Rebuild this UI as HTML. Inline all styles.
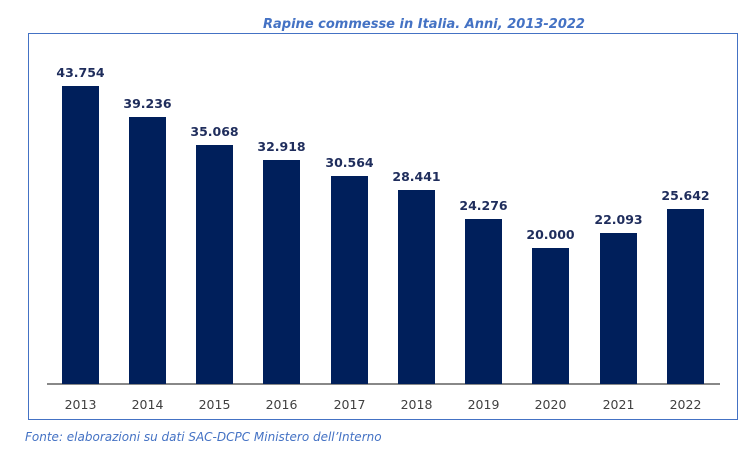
<!DOCTYPE html>
<html><head><style>body{margin:0;background:#fff;}svg{display:block}</style></head>
<body>
<svg width="754" height="459" xmlns="http://www.w3.org/2000/svg" font-family="Verdana, 'DejaVu Sans', sans-serif">
<text x="424" y="28" text-anchor="middle" font-size="13" font-style="italic" font-weight="bold" fill="#4472c4">Rapine commesse in Italia. Anni, 2013-2022</text>
<rect x="28.5" y="33.5" width="709" height="386" fill="none" stroke="#4472c4" stroke-width="1"/>
<line x1="47" y1="384" x2="720" y2="384" stroke="#404040" stroke-width="1.3"/>
<g fill="#001f5b">
<rect x="62" y="86" width="37" height="298"/>
<rect x="129" y="117" width="37" height="267"/>
<rect x="196" y="145" width="37" height="239"/>
<rect x="263" y="160" width="37" height="224"/>
<rect x="331" y="176" width="37" height="208"/>
<rect x="398" y="190" width="37" height="194"/>
<rect x="465" y="219" width="37" height="165"/>
<rect x="532" y="248" width="37" height="136"/>
<rect x="600" y="233" width="37" height="151"/>
<rect x="667" y="209" width="37" height="175"/>
</g>
<g font-size="12.5" font-weight="bold" fill="#1f2d5c" text-anchor="middle">
<text x="80.5" y="77">43.754</text>
<text x="147.5" y="108">39.236</text>
<text x="214.5" y="136">35.068</text>
<text x="281.5" y="151">32.918</text>
<text x="349.5" y="167">30.564</text>
<text x="416.5" y="181">28.441</text>
<text x="483.5" y="210">24.276</text>
<text x="550.5" y="239">20.000</text>
<text x="618.5" y="224">22.093</text>
<text x="685.5" y="200">25.642</text>
</g>
<g font-size="12.5" fill="#404040" text-anchor="middle">
<text x="80.5" y="409">2013</text>
<text x="147.5" y="409">2014</text>
<text x="214.5" y="409">2015</text>
<text x="281.5" y="409">2016</text>
<text x="349.5" y="409">2017</text>
<text x="416.5" y="409">2018</text>
<text x="483.5" y="409">2019</text>
<text x="550.5" y="409">2020</text>
<text x="618.5" y="409">2021</text>
<text x="685.5" y="409">2022</text>
</g>
<text x="25" y="441" font-size="12" font-style="italic" fill="#4472c4">Fonte: elaborazioni su dati SAC-DCPC Ministero dell’Interno</text>
</svg>
</body></html>
